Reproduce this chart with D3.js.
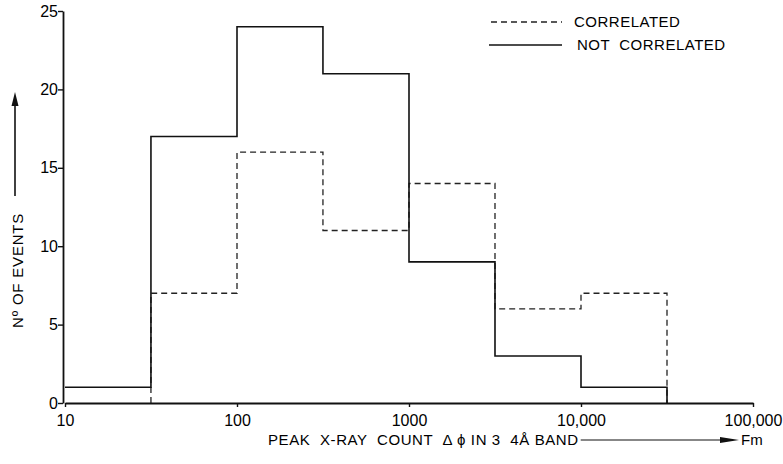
<!DOCTYPE html>
<html>
<head>
<meta charset="utf-8">
<script src="https://cdn.jsdelivr.net/npm/d3@7"></script>
<style>
  body { margin: 0; background: #fff; }
  text { font-family: "Liberation Sans", Arial, sans-serif; fill: #000; white-space: pre; }
</style>
</head>
<body>
<script>
const width = 783;
const height = 464;

// bin edges (log scale, half-decade bins)
const binEdges = [10, 31.6, 100, 316, 1000, 3162, 10000, 31623];
const notCorrelated = [1, 17, 24, 21, 9, 3, 1];
const correlated = [0, 7, 16, 11, 14, 6, 7];
const xTicks = [10, 100, 1000, 10000, 100000];
const xTickLabels = ["10", "100", "1000", "10,000", "100,000"];
const yTicks = [0, 5, 10, 15, 20, 25];
const legendLabels = ["CORRELATED", "NOT  CORRELATED"];

const svg = d3.select("body").append("svg")
    .attr("width", width)
    .attr("height", height);

const x = d3.scaleLog()
    .domain([10, 100000])
    .range([65, 753]);

const y = d3.scaleLinear()
    .domain([0, 25])
    .range([403, 11]);

// step outline built from bins
function stepPoints(vals, skipLeadingZero) {
  let pts = [];
  vals.forEach((v, i) => {
    if (skipLeadingZero && i == 0 && v == 0) return;
    if (skipLeadingZero && pts.length == 0) pts.push([binEdges[i], 0]);
    pts.push([binEdges[i], v]);
  });
  pts.push([binEdges[binEdges.length - 1], 0]);
  return pts;
}

const line = d3.line()
    .x(d => x(d[0]))
    .y(d => y(d[1]))
    .curve(d3.curveStepAfter);

svg.append("path")
    .datum(stepPoints(correlated, true))
    .attr("fill", "none")
    .attr("stroke", "#222")
    .attr("stroke-width", 1.3)
    .attr("stroke-dasharray", "6,4")
    .attr("d", line);

svg.append("path")
    .datum(stepPoints(notCorrelated, false))
    .attr("fill", "none")
    .attr("stroke", "#111")
    .attr("stroke-width", 1.6)
    .attr("d", line);

// axes
const xAxis = svg.append("g")
    .attr("transform", `translate(0,${y(0)})`)
    .call(d3.axisBottom(x)
      .tickValues(xTicks)
      .tickFormat((d, i) => xTickLabels[i])
      .tickSize(4)
      .tickSizeOuter(0));

const yAxis = svg.append("g")
    .attr("transform", `translate(${x(10) - 2},0)`)
    .call(d3.axisLeft(y)
      .tickValues(yTicks)
      .tickSize(5)
      .tickSizeOuter(0));

[xAxis, yAxis].forEach(a => {
  a.select(".domain").attr("stroke", "#111").attr("stroke-width", 1.8);
  a.selectAll(".tick line").attr("stroke", "#111").attr("stroke-width", 1.4);
  a.selectAll(".tick text")
    .style("font-family", "'Liberation Sans', Arial, sans-serif")
    .style("font-size", "16px")
    .attr("fill", "#000");
});
xAxis.selectAll(".tick text").attr("dy", "1.0em");
yAxis.selectAll(".tick text").attr("x", -5);

// x axis label
const xl = svg.append("text")
    .attr("x", 268)
    .attr("y", 445)
    .style("font-size", "15px")
    .style("letter-spacing", "0.6px")
    .text("PEAK  X-RAY  COUNT  \u0394 \u03D5 IN 3  4\u00C5 BAND");

const xlEnd = 268 + xl.node().getComputedTextLength() + 2;
svg.append("line")
    .attr("x1", xlEnd).attr("x2", 728)
    .attr("y1", 440).attr("y2", 440)
    .attr("stroke", "#111").attr("stroke-width", 1.2);
svg.append("path")
    .attr("d", "M720,437 L739,440 L720,443 Z")
    .attr("fill", "#111");
svg.append("text")
    .attr("x", 741)
    .attr("y", 445)
    .style("font-size", "15px")
    .text("Fm");

// y axis label with arrow
svg.append("text")
    .attr("transform", "translate(23,328) rotate(-90)")
    .style("font-size", "15px")
    .style("letter-spacing", "0.8px")
    .text("N\u00BA OF EVENTS");

svg.append("line")
    .attr("x1", 15).attr("x2", 15)
    .attr("y1", 196).attr("y2", 104)
    .attr("stroke", "#111").attr("stroke-width", 1.6);
svg.append("path")
    .attr("d", "M11.5,106 L15,92 L18.5,106 Z")
    .attr("fill", "#111");

// legend
const legend = svg.append("g");
legend.append("line")
    .attr("x1", 491).attr("x2", 562)
    .attr("y1", 22).attr("y2", 22)
    .attr("stroke", "#222").attr("stroke-width", 1.3)
    .attr("stroke-dasharray", "6,4");
legend.append("line")
    .attr("x1", 489).attr("x2", 562)
    .attr("y1", 45).attr("y2", 45)
    .attr("stroke", "#111").attr("stroke-width", 1.4);
legend.selectAll("text.lg")
    .data(legendLabels)
    .join("text")
    .attr("class", "lg")
    .attr("x", (d, i) => i == 0 ? 574 : 577)
    .attr("y", (d, i) => i == 0 ? 27 : 50)
    .style("font-size", "15px")
    .style("letter-spacing", "0.5px")
    .text(d => d);
</script>
</body>
</html>
